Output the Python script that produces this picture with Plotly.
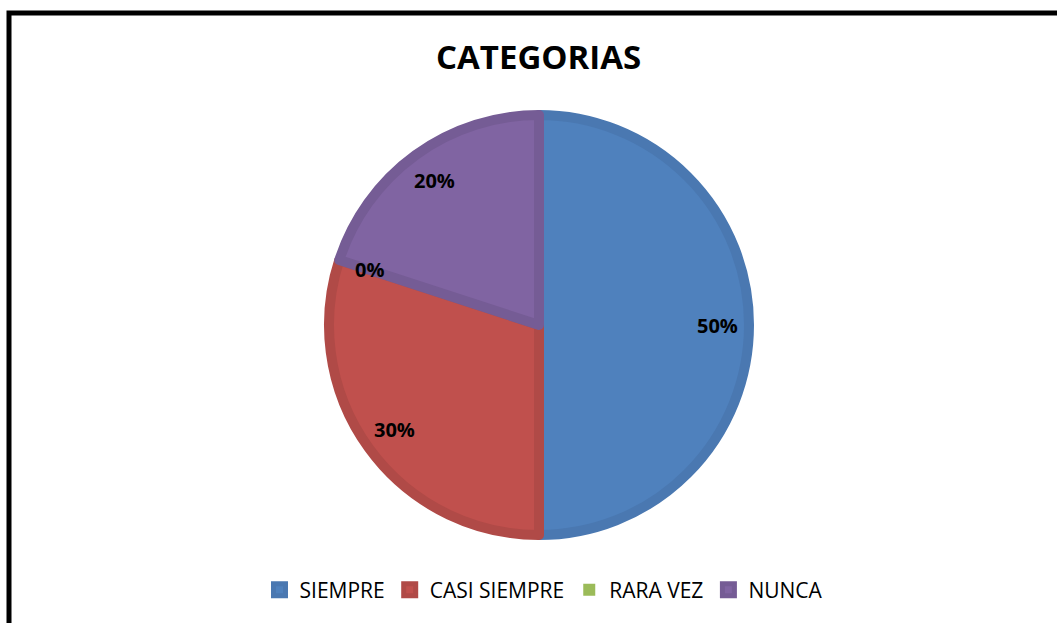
import math
import plotly.graph_objects as go

categories = ["SIEMPRE", "CASI SIEMPRE", "RARA VEZ", "NUNCA"]
values = [50, 30, 0, 20]
fill_colors = ["#4F81BD", "#C0504D", "#9BBB59", "#8064A2"]
edge_colors = ["#4A78B1", "#B04A47", "#8FAD52", "#755C95"]
title_text = "CATEGORIAS"

W, H = 1057, 623
cx, cy = 539, 325
r_dom = 210
stroke = 10

fig = go.Figure()
fig.add_trace(go.Pie(
    labels=categories,
    values=values,
    sort=False,
    direction="clockwise",
    rotation=0,
    textinfo="none",
    hoverinfo="label+percent",
    marker=dict(colors=fill_colors,
                line=dict(color=edge_colors,
                          width=[stroke if v > 0 else 0 for v in values])),
    domain=dict(x=[(cx - r_dom) / W, (cx + r_dom) / W],
                y=[1 - (cy + r_dom) / H, 1 - (cy - r_dom) / H]),
    showlegend=True,
))

# percentage labels placed from the data (mid-angle of each slice)
total = sum(values)
cum = 0.0
R_lab = 0.83 * (r_dom + stroke / 2)
annotations = []
for lab, v in zip(categories, values):
    mid = (cum + v / 2) / total
    cum += v
    ang = 2 * math.pi * mid
    px = cx + R_lab * math.sin(ang)
    py = cy - R_lab * math.cos(ang)
    annotations.append(dict(
        x=px / W, y=1 - py / H, xref="paper", yref="paper",
        text=f"{round(100 * v / total)}%", showarrow=False,
        font=dict(family="Open Sans", size=20, color="black", weight="bold"),
        xanchor="center", yanchor="middle"))

annotations.append(dict(
    x=538 / W, y=1 - 56 / H, xref="paper", yref="paper",
    text=f"<b>{title_text}</b>", showarrow=False,
    font=dict(family="Open Sans", size=33, color="black"),
    xanchor="center", yanchor="middle"))

fig.update_layout(
    width=W, height=H,
    margin=dict(l=0, r=0, t=0, b=0),
    paper_bgcolor="white",
    plot_bgcolor="white",
    annotations=annotations,
    legend=dict(orientation="h", x=544 / W, xanchor="center",
                y=1 - 590 / H, yanchor="middle",
                font=dict(family="Open Sans", size=21, color="black"),
                itemwidth=30, tracegroupgap=0),
    shapes=[dict(type="rect", xref="paper", yref="paper",
                 x0=9 / W, x1=1.03, y0=-0.03, y1=1 - 13 / H,
                 line=dict(color="black", width=5), layer="above")],
)

fig.write_html("out.html",
               config={"displayModeBar": False},
               post_script="document.body.style.margin='0px';document.body.style.overflow='hidden';")
